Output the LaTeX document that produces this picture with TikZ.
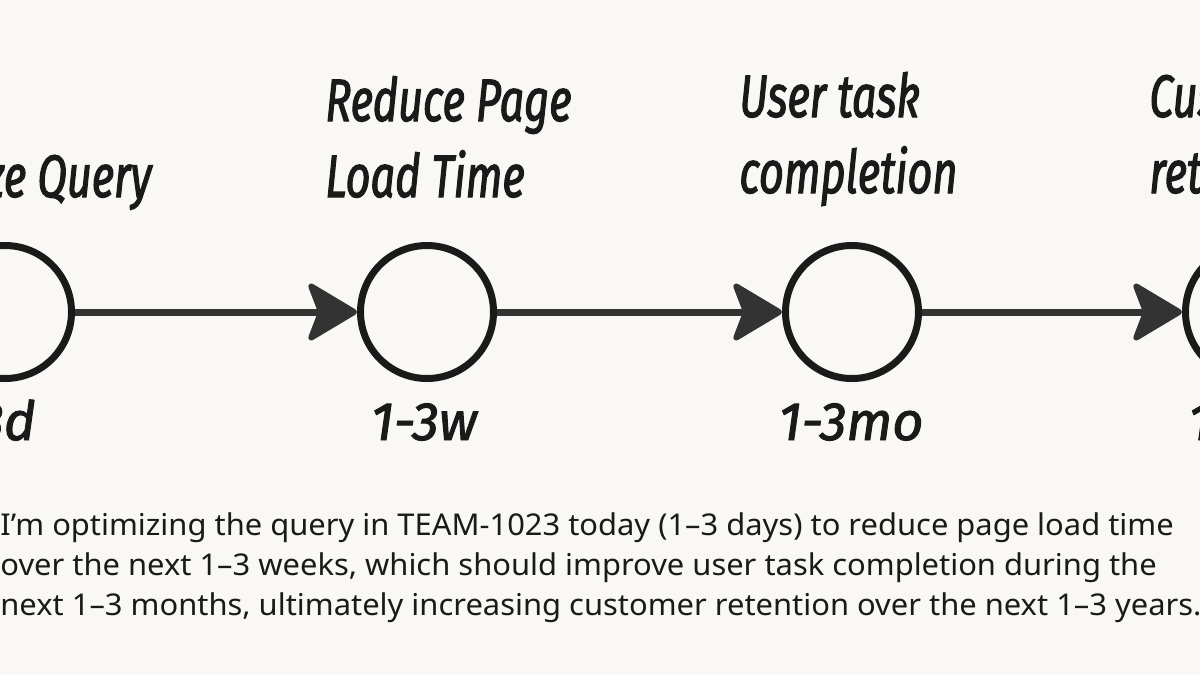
\documentclass[tikz,border=0pt]{standalone}
\usepackage{fontspec}
\setmainfont[FakeStretch=1.03]{Noto Sans}
\newfontfamily\handfont[FakeStretch=0.72,FakeBold=1.8]{Fira Sans}
\newfontfamily\durfont[FakeBold=1.8]{Fira Sans}
\usetikzlibrary{arrows.meta}
\definecolor{bg}{HTML}{F9F8F4}
\definecolor{ink}{HTML}{1A1A1A}
\definecolor{arr}{HTML}{333333}
\begin{document}
\begin{tikzpicture}[x=0.5pt,y=-0.5pt,
  stage/.style={circle,draw=ink,line width=3.5pt,inner sep=0pt,minimum size=66.5pt},
  flow/.style={draw=arr,line width=3.5pt,
    -{Stealth[length=27pt,width=32pt,inset=6pt,line width=3pt,round,fill=arr,color=arr]}},
  title/.style={text=ink,inner sep=0pt,align=left,
    font=\handfont\itshape\fontsize{30pt}{38pt}\selectfont},
  dur/.style={text=ink,inner sep=0pt,
    font=\durfont\itshape\fontsize{27pt}{30pt}\selectfont},
  body/.style={text=ink,inner sep=0pt,align=left,
    font=\fontsize{15pt}{20pt}\selectfont}]
\fill[bg] (0,0) rectangle (1200,675);
\useasboundingbox (0,0) rectangle (1200,675);

\node[stage] (n1) at (5,312) {};
\node[stage] (n2) at (427,312) {};
\node[stage] (n3) at (852,312) {};
\node[stage] (n4) at (1252,312) {};

\draw[flow] (n1) -- (n2);
\draw[flow] (n2) -- (n3);
\draw[flow] (n3) -- (n4);

\node[title,anchor=base east] (t1) at (152,197) {Optimize Query};
\node[title,anchor=base west] (t2) at (325,197) {Reduce Page\\Load Time};
\node[title,anchor=base west] (t3) at (739,193) {User task\\completion};
\node[title,anchor=base west] (t4) at (1149,193) {Customer\\retention};

\node[dur,anchor=base east] (d1) at (36,440) {1-3d};
\node[dur,anchor=base] (d2) at (424,440) {1-3w};
\node[dur,anchor=base] (d3) at (851,440) {1-3mo};
\node[dur,anchor=base west] (d4) at (1188,440) {1-3y};

\node[body,anchor=base west] (txt) at (0,615) {I’m optimizing the query in TEAM-1023 today (1–3 days) to reduce page load time\\over the next 1–3 weeks, which should improve user task completion during the\\next 1–3 months, ultimately increasing customer retention over the next 1–3 years.};
\end{tikzpicture}
\end{document}
